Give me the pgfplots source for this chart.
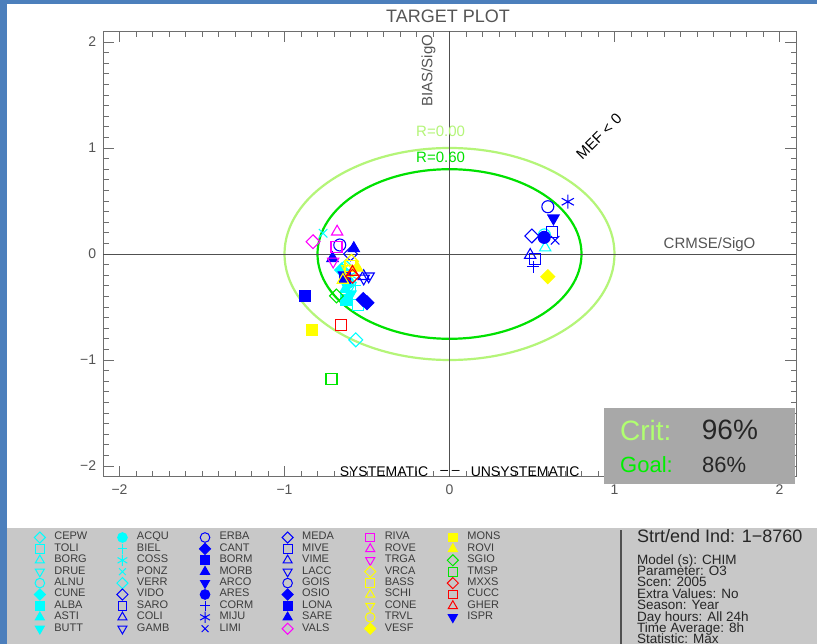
\documentclass[border=0pt]{standalone}
\usepackage{pgfplots}
\pgfplotsset{compat=1.18}
\usepackage{fontspec}
\setmainfont{Liberation Sans}
\definecolor{bordblue}{RGB}{76,127,188}
\definecolor{panel}{RGB}{200,200,200}
\definecolor{critbox}{RGB}{168,168,168}
\definecolor{lgreen}{RGB}{180,245,120}
\definecolor{dgreen}{RGB}{0,225,0}
\definecolor{cy}{RGB}{0,255,255}
\definecolor{bl}{RGB}{0,0,255}
\definecolor{mg}{RGB}{255,0,255}
\definecolor{yl}{RGB}{255,255,0}
\definecolor{gr}{RGB}{0,230,0}
\definecolor{rd}{RGB}{255,0,0}
\definecolor{axgray}{RGB}{110,110,110}
\definecolor{zerogray}{RGB}{80,80,80}
\definecolor{txgray}{RGB}{85,85,85}
\definecolor{legtext}{RGB}{60,60,60}
\definecolor{critg}{RGB}{176,255,112}
\definecolor{goalg}{RGB}{0,240,0}
\pgfplotsset{
  od/.style={mark=square,mark size=4.9pt,mark options={rotate=45}},
  os/.style={mark=square,mark size=5.5pt},
  otu/.style={mark=triangle,mark size=6.5pt},
  otd/.style={mark=triangle,mark size=6.5pt,mark options={rotate=180}},
  oc/.style={mark=o,mark size=6pt},
  fd/.style={mark=square*,mark size=4.9pt,mark options={rotate=45}},
  fs/.style={mark=square*,mark size=5.5pt},
  ftu/.style={mark=triangle*,mark size=6.5pt},
  ftd/.style={mark=triangle*,mark size=6.5pt,mark options={rotate=180}},
  fc/.style={mark=*,mark size=6pt},
  pl/.style={mark=+,mark size=6pt},
  as/.style={mark=asterisk,mark size=7pt},
  xx/.style={mark=x,mark size=6pt},
}
\begin{document}
\begin{tikzpicture}
\useasboundingbox (0pt,0pt) rectangle (817pt,-644pt);
\fill[white] (0pt,0pt) rectangle (817pt,-644pt);
\fill[panel] (7pt,-528pt) rectangle (817pt,-644pt);
\fill[bordblue] (0pt,0pt) rectangle (7.3pt,-644pt);
\fill[bordblue] (0pt,0pt) rectangle (817pt,-4.5pt);
\draw[zerogray, line width=1.6pt] (621pt,-530pt) -- (621pt,-644pt);
\node[font=\fontsize{18}{18}\selectfont, text=txgray, inner sep=0pt] at (448pt,-16.3pt) {TARGET PLOT};
\begin{axis}[
  at={(103pt,-31.4pt)}, anchor=north west,
  scale only axis, width=693pt, height=445.2pt,
  xmin=-2.1,xmax=2.1,ymin=-2.1,ymax=2.1,
  xtick={-2,-1,0,1,2}, ytick={-2,-1,0,1,2},
  xticklabels={−2,−1,0,1,2}, yticklabels={−2,−1,0,1,2},
  minor x tick num=9, minor y tick num=9,
  tick align=inside,
  major tick length=11pt, minor tick length=5.5pt,
  axis line style={axgray, line width=0.9pt},
  tick style={axgray, line width=0.8pt},
  ticklabel style={font=\fontsize{14}{14}\selectfont, text=txgray},
  xticklabel style={yshift=-4.5pt},
  yticklabel style={xshift=-3.3pt},
  clip=false,
  only marks,
  every axis plot/.append style={line width=1.1pt},
  legend columns=9, transpose legend,
  legend cell align=left,
  legend image code/.code={\draw[#1,line width=1pt,/tikz/every mark/.append style={scale=0.8}] plot coordinates {(0pt,0pt)};\path (-6pt,0pt) (14pt,0pt);},
  legend style={at={(-0.1006,-0.124)}, anchor=north west, draw=none, fill=none, inner sep=0pt, outer sep=0pt, row sep=0pt, column sep=0pt,
    nodes={inner sep=0pt, text width=61.5pt, text height=8pt, text depth=3.4pt, font=\fontsize{11}{11}\selectfont, text=legtext}},
]
\draw[lgreen, line width=2.2pt] (axis cs:0,0) ellipse [x radius=1, y radius=1];
\draw[dgreen, line width=2.2pt] (axis cs:0,0) ellipse [x radius=0.8, y radius=0.8];
\draw[zerogray, line width=0.9pt] (axis cs:-2.1,0) -- (axis cs:2.1,0);
\draw[zerogray, line width=0.9pt] (axis cs:0,-2.1) -- (axis cs:0,2.1);
\node[anchor=west, text=lgreen, font=\fontsize{15}{15}\selectfont, inner sep=0pt] at (axis cs:-0.203,1.158) {R=0.00};
\node[anchor=west, text=dgreen, font=\fontsize{15}{15}\selectfont, inner sep=0pt] at (axis cs:-0.203,0.910) {R=0.60};
\node[rotate=90, text=txgray, font=\fontsize{15}{15}\selectfont, inner sep=0pt] at (axis cs:-0.128,1.731) {BIAS/SigO};
\node[text=txgray, font=\fontsize{15}{15}\selectfont, inner sep=0pt] at (axis cs:1.576,0.085) {CRMSE/SigO};
\node[rotate=45, text=black, font=\fontsize{15}{15}\selectfont, inner sep=0pt] at (axis cs:0.906,1.108) {MEF < 0};
\node[text=black, font=\fontsize{14}{14}\selectfont, inner sep=0pt] at (axis cs:-0.397,-2.057) {SYSTEMATIC};
\node[text=black, font=\fontsize{14}{14}\selectfont, inner sep=0pt] at (axis cs:0.003,-2.057) {-- --};
\node[text=black, font=\fontsize{14}{14}\selectfont, inner sep=0pt] at (axis cs:0.458,-2.057) {UNSYSTEMATIC};
\addplot[cy,od] coordinates {(-0.568,-0.810)}; \addlegendentry{CEPW}
\addplot[cy,os] coordinates {(-0.553,-0.480)}; \addlegendentry{TOLI}
\addplot[cy,otu] coordinates {(0.580,0.060)}; \addlegendentry{BORG}
\addplot[cy,otd] coordinates {(-0.600,-0.300)}; \addlegendentry{DRUE}
\addplot[cy,oc] coordinates {(0.575,0.180)}; \addlegendentry{ALNU}
\addplot[cy,fd] coordinates {(-0.654,-0.150)}; \addlegendentry{CUNE}
\addplot[cy,fs] coordinates {(-0.624,-0.434)}; \addlegendentry{ALBA}
\addplot[cy,ftu] coordinates {(-0.630,-0.330)}; \addlegendentry{ASTI}
\addplot[cy,ftd] coordinates {(-0.600,-0.380)}; \addlegendentry{BUTT}
\addplot[cy,fc] coordinates {(-0.616,-0.270)}; \addlegendentry{ACQU}
\addplot[cy,pl] coordinates {(-0.570,-0.300)}; \addlegendentry{BIEL}
\addplot[cy,as] coordinates {(-0.600,-0.200)}; \addlegendentry{COSS}
\addplot[cy,xx] coordinates {(-0.766,0.195)}; \addlegendentry{PONZ}
\addplot[cy,od] coordinates {(-0.630,-0.120)}; \addlegendentry{VERR}
\addplot[bl,od] coordinates {(0.499,0.170)}; \addlegendentry{VIDO}
\addplot[bl,os] coordinates {(0.620,0.210)}; \addlegendentry{SARO}
\addplot[bl,otu] coordinates {(0.489,-0.010)}; \addlegendentry{COLI}
\addplot[bl,otd] coordinates {(-0.520,-0.230)}; \addlegendentry{GAMB}
\addplot[bl,oc] coordinates {(0.596,0.446)}; \addlegendentry{ERBA}
\addplot[bl,fd] coordinates {(-0.523,-0.430)}; \addlegendentry{CANT}
\addplot[bl,fs] coordinates {(-0.877,-0.393)}; \addlegendentry{BORM}
\addplot[bl,ftu] coordinates {(-0.580,0.053)}; \addlegendentry{MORB}
\addplot[bl,ftd] coordinates {(-0.640,-0.200)}; \addlegendentry{ARCO}
\addplot[bl,fc] coordinates {(0.574,0.157)}; \addlegendentry{ARES}
\addplot[bl,pl] coordinates {(0.509,-0.120)}; \addlegendentry{CORM}
\addplot[bl,as] coordinates {(0.717,0.493)}; \addlegendentry{MIJU}
\addplot[bl,xx] coordinates {(0.640,0.130)}; \addlegendentry{LIMI}
\addplot[bl,od] coordinates {(-0.600,0.000)}; \addlegendentry{MEDA}
\addplot[bl,os] coordinates {(0.519,-0.045)}; \addlegendentry{MIVE}
\addplot[bl,otu] coordinates {(-0.520,-0.210)}; \addlegendentry{VIME}
\addplot[bl,otd] coordinates {(-0.490,-0.210)}; \addlegendentry{LACC}
\addplot[bl,oc] coordinates {(-0.665,0.085)}; \addlegendentry{GOIS}
\addplot[bl,fd] coordinates {(-0.500,-0.460)}; \addlegendentry{OSIO}
\addplot[bl,fs] coordinates {(-0.634,-0.230)}; \addlegendentry{LONA}
\addplot[bl,ftu] coordinates {(-0.709,-0.041)}; \addlegendentry{SARE}
\addplot[mg,od] coordinates {(-0.827,0.116)}; \addlegendentry{VALS}
\addplot[mg,os] coordinates {(-0.685,0.070)}; \addlegendentry{RIVA}
\addplot[mg,otu] coordinates {(-0.681,0.210)}; \addlegendentry{ROVE}
\addplot[mg,otd] coordinates {(-0.705,-0.070)}; \addlegendentry{TRGA}
\addplot[yl,od] coordinates {(-0.594,-0.070)}; \addlegendentry{VRCA}
\addplot[yl,os] coordinates {(-0.600,-0.110)}; \addlegendentry{BASS}
\addplot[yl,otu] coordinates {(-0.646,-0.245)}; \addlegendentry{SCHI}
\addplot[yl,otd] coordinates {(-0.620,-0.140)}; \addlegendentry{CONE}
\addplot[yl,oc] coordinates {(-0.600,-0.160)}; \addlegendentry{TRVL}
\addplot[yl,fd] coordinates {(0.596,-0.214)}; \addlegendentry{VESF}
\addplot[yl,fs] coordinates {(-0.833,-0.717)}; \addlegendentry{MONS}
\addplot[yl,ftu] coordinates {(-0.560,-0.130)}; \addlegendentry{ROVI}
\addplot[gr,od] coordinates {(-0.685,-0.396)}; \addlegendentry{SGIO}
\addplot[gr,os] coordinates {(-0.715,-1.180)}; \addlegendentry{TMSP}
\addplot[rd,od] coordinates {(-0.588,-0.210)}; \addlegendentry{MXXS}
\addplot[rd,os] coordinates {(-0.660,-0.670)}; \addlegendentry{CUCC}
\addplot[rd,otu] coordinates {(-0.588,-0.170)}; \addlegendentry{GHER}
\addplot[bl,ftd] coordinates {(0.630,0.337)}; \addlegendentry{ISPR}
\end{axis}
\fill[critbox] (604pt,-408.3pt) rectangle (795pt,-484pt);
\node[anchor=west, text=critg, font=\fontsize{28}{28}\selectfont, inner sep=0pt] at (620pt,-430pt) {Crit:};
\node[anchor=west, text=black!85, font=\fontsize{28}{28}\selectfont, inner sep=0pt] at (701.7pt,-430pt) {96\%};
\node[anchor=west, text=goalg, font=\fontsize{22}{22}\selectfont, inner sep=0pt] at (620pt,-465pt) {Goal:};
\node[anchor=west, text=black!85, font=\fontsize{22}{22}\selectfont, inner sep=0pt] at (702pt,-465pt) {86\%};
\node[anchor=base west, text=black!85, font=\fontsize{18}{18}\selectfont, inner sep=0pt] at (637pt,-542pt) {Strt/end Ind: 1−8760};
\begin{scope}[every node/.style={anchor=base west, text=black!85, font=\fontsize{13.5}{13.5}\selectfont, inner sep=0pt}]
\node at (637pt,-564.0pt) {Model (s): CHIM};
\node at (637pt,-575.4pt) {Parameter: O3};
\node at (637pt,-586.8pt) {Scen: 2005};
\node at (637pt,-598.2pt) {Extra Values: No};
\node at (637pt,-609.6pt) {Season: Year};
\node at (637pt,-621.0pt) {Day hours: All 24h};
\node at (637pt,-632.4pt) {Time Average: 8h};
\node at (637pt,-643.8pt) {Statistic: Max};
\end{scope}
\end{tikzpicture}
\end{document}
